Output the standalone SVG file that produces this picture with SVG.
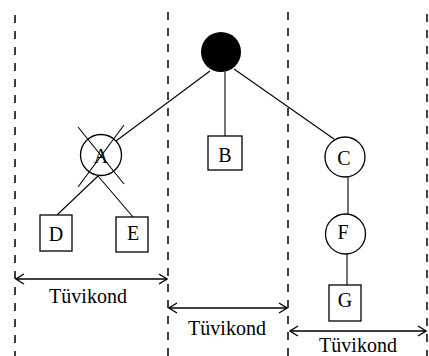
<svg xmlns="http://www.w3.org/2000/svg" width="429" height="356" viewBox="0 0 429 356">
<defs>
<marker id="ah" viewBox="-10 -6 11 12" refX="0" refY="0" markerWidth="11" markerHeight="12" markerUnits="userSpaceOnUse" orient="auto-start-reverse">
<path d="M-8,-5 L0,0 L-8,5" fill="none" stroke="#000" stroke-width="1.3"/>
</marker>
<style>
.n{fill:#fff;stroke:#000;stroke-width:1.3}
.t{font-family:"Liberation Serif","Times New Roman",serif;font-size:20px;fill:#000;text-anchor:middle}
.c{stroke:#000;stroke-width:1.1;fill:none}
.d{stroke:#000;stroke-width:1.5;stroke-dasharray:8 8;fill:none}
.a{stroke:#000;stroke-width:1.3;fill:none;marker-start:url(#ah);marker-end:url(#ah)}
</style>
</defs>
<g id="dividers">
<line class="d" x1="15" y1="15" x2="15" y2="356"/>
<line class="d" x1="168" y1="12" x2="168" y2="356"/>
<line class="d" x1="288" y1="12" x2="288" y2="356"/>
<line class="d" x1="427" y1="14" x2="427" y2="356"/>
</g>
<g id="connectors">
<line class="c" x1="210" y1="71" x2="116" y2="141"/>
<line class="c" x1="225" y1="72" x2="225" y2="136"/>
<line class="c" x1="234" y1="69" x2="334" y2="139"/>
<line class="c" x1="98" y1="176" x2="57" y2="215"/>
<line class="c" x1="98" y1="176" x2="133" y2="217"/>
<line class="c" x1="348" y1="177" x2="348" y2="214"/>
<line class="c" x1="347" y1="254" x2="347" y2="285"/>
</g>
<g id="root"><circle cx="221" cy="52" r="20" fill="#000"/></g>
<g id="A">
<circle class="n" cx="101" cy="155" r="20.5"/>
<text class="t" x="101" y="163">A</text>
<line class="c" x1="78" y1="127" x2="124" y2="184"/>
<line class="c" x1="124" y1="125" x2="78" y2="187"/>
</g>
<g id="B"><rect class="n" x="208" y="136" width="34" height="34"/><text class="t" x="225" y="162">B</text></g>
<g id="C"><circle class="n" cx="345" cy="157" r="20"/><text class="t" x="344" y="165">C</text></g>
<g id="D"><rect class="n" x="40" y="215" width="32" height="36"/><text class="t" x="56" y="241">D</text></g>
<g id="E"><rect class="n" x="116" y="217" width="32" height="35"/><text class="t" x="133" y="240">E</text></g>
<g id="F"><circle class="n" cx="345.5" cy="234" r="20"/><text class="t" x="343" y="239">F</text></g>
<g id="G"><rect class="n" x="329" y="285" width="32" height="36"/><text class="t" x="345" y="307">G</text></g>
<g id="spans">
<line class="a" x1="16" y1="279" x2="167" y2="279"/>
<text class="t" x="88" y="303">Tüvikond</text>
<line class="a" x1="169" y1="308" x2="287" y2="308"/>
<text class="t" x="227" y="335">Tüvikond</text>
<line class="a" x1="290" y1="331" x2="426" y2="331"/>
<text class="t" x="358" y="352">Tüvikond</text>
</g>
</svg>
